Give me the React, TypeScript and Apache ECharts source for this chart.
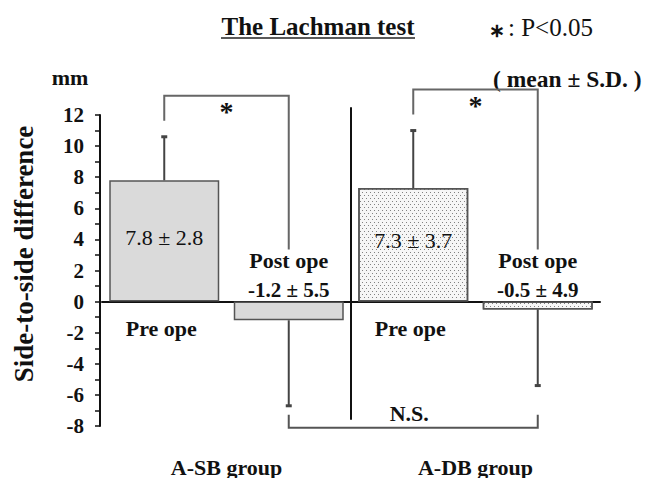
import React, { useEffect, useRef } from "react";
import * as echarts from "echarts";

const categories = ["Pre ope", "Post ope", "Pre ope", "Post ope"];
const groupNames = ["A-SB group", "A-DB group"];
const meanValues = [7.8, -1.2, 7.3, -0.5];
const sdValues = [2.8, 5.5, 3.7, 4.9];
const significantPairs = [[0, 1], [2, 3]];
const nsPair = [[1, 3]];
const yMin = -8;
const yMax = 12;
const yInterval = 2;

const FONT = '"Liberation Serif", "Times New Roman", serif';

export default function App() {
  const ref = useRef<HTMLDivElement>(null);

  useEffect(() => {
    if (!ref.current) return;
    const chart = echarts.init(ref.current, null, { renderer: "svg" });

    const solidStyle = { color: "#dadada", borderColor: "#555", borderWidth: 1.5 };
    const dotStyle = {
      color: "#f6f6f6",
      borderColor: "#555",
      borderWidth: 1.5,
      decal: {
        symbol: "rect",
        symbolSize: 1,
        color: "rgba(90,90,90,0.75)",
        dashArrayX: [[1, 3], [0, 2, 1, 1]],
        dashArrayY: [1, 1.5],
        rotation: 0,
      },
    };

    const errData = meanValues.map((m, i) => [i, m, sdValues[i]]);

    const txt = (x: number, y: number, text: string, font: string, align = "center") => ({
      type: "text",
      x,
      y,
      style: {
        text,
        font,
        fill: "#111",
        align,
        verticalAlign: "middle",
        textAlign: align,
        textVerticalAlign: "middle",
      },
    });

    const capY = (i: number) => {
      const m = meanValues[i];
      const s = sdValues[i];
      return m >= 0 ? m + s : m - s;
    };

    const option: any = {
      animation: false,
      backgroundColor: "#fff",
      grid: { left: 102, right: 49, top: 115, bottom: 50, containLabel: false },
      xAxis: [
        {
          type: "category",
          data: categories,
          axisLine: { onZero: true, lineStyle: { color: "#111", width: 2 } },
          axisTick: { show: false },
          axisLabel: { show: false },
          splitLine: { show: false },
        },
        {
          type: "category",
          data: groupNames,
          position: "bottom",
          gridIndex: 0,
          axisLine: { show: false, onZero: false },
          axisTick: { show: false },
          axisLabel: {
            show: true,
            margin: 30,
            fontFamily: FONT,
            fontWeight: "bold",
            fontSize: 22,
            color: "#111",
          },
          splitLine: { show: false },
        },
      ],
      yAxis: {
        type: "value",
        min: yMin,
        max: yMax,
        interval: yInterval,
        offset: 2,
        axisLine: { show: true, lineStyle: { color: "#111", width: 2 } },
        axisTick: { show: true, length: 5, lineStyle: { color: "#111", width: 1.5 } },
        minorTick: { show: true, splitNumber: 2, length: 5, lineStyle: { color: "#111", width: 1.5 } },
        splitLine: { show: false },
        minorSplitLine: { show: false },
        axisLabel: {
          margin: 16,
          fontFamily: FONT,
          fontWeight: "bold",
          fontSize: 21,
          color: "#111",
        },
      },
      graphic: [
        {
          type: "text",
          x: 318,
          y: 26,
          style: {
            text: "The Lachman test",
            font: `bold 25px ${FONT}`,
            fill: "#111",
            align: "center",
            verticalAlign: "middle",
            textAlign: "center",
            textVerticalAlign: "middle",
          },
        },
        {
          type: "line",
          shape: { x1: 221, y1: 38, x2: 415, y2: 38 },
          style: { stroke: "#222", lineWidth: 1.5 },
        },
        {
          type: "text",
          x: 497,
          y: 30,
          style: {
            text: "∗",
            font: `bold 19px ${FONT}`,
            fill: "#111",
            align: "center",
            verticalAlign: "middle",
            textAlign: "center",
            textVerticalAlign: "middle",
          },
        },
        {
          type: "text",
          x: 508,
          y: 27,
          style: {
            text: ": P<0.05",
            font: `25px ${FONT}`,
            fill: "#111",
            align: "left",
            verticalAlign: "middle",
            textAlign: "left",
            textVerticalAlign: "middle",
          },
        },
        {
          type: "text",
          x: 493,
          y: 79,
          style: {
            text: "( mean ± S.D. )",
            font: `bold 23.5px ${FONT}`,
            fill: "#111",
            align: "left",
            verticalAlign: "middle",
            textAlign: "left",
            textVerticalAlign: "middle",
          },
        },
        {
          type: "text",
          x: 70,
          y: 77,
          style: {
            text: "mm",
            font: `bold 22px ${FONT}`,
            fill: "#111",
            align: "center",
            verticalAlign: "middle",
            textAlign: "center",
            textVerticalAlign: "middle",
          },
        },
        {
          type: "text",
          x: 24,
          y: 254,
          rotation: Math.PI / 2,
          style: {
            text: "Side-to-side difference",
            font: `bold 27px ${FONT}`,
            fill: "#111",
            align: "center",
            verticalAlign: "middle",
            textAlign: "center",
            textVerticalAlign: "middle",
          },
        },
      ],
      series: [
        {
          type: "bar",
          xAxisIndex: 0,
          barWidth: 110,
          data: meanValues.map((v, i) => ({
            value: v,
            itemStyle: i < 2 ? solidStyle : dotStyle,
          })),
          z: 2,
        },
        {
          type: "custom",
          name: "errorbars",
          xAxisIndex: 0,
          clip: false,
          z: 3,
          data: errData,
          renderItem: (params: any, api: any) => {
            const x = api.value(0);
            const m = api.value(1);
            const s = api.value(2);
            const end = m >= 0 ? m + s : m - s;
            const p0 = api.coord([x, m]);
            const p1 = api.coord([x, end]);
            return {
              type: "group",
              children: [
                {
                  type: "line",
                  shape: { x1: p0[0], y1: p0[1], x2: p1[0], y2: p1[1] },
                  style: { stroke: "#444", lineWidth: 2 },
                },
                {
                  type: "line",
                  shape: { x1: p1[0] - 3, y1: p1[1], x2: p1[0] + 3, y2: p1[1] },
                  style: { stroke: "#444", lineWidth: 3 },
                },
              ],
            };
          },
        },
        {
          type: "custom",
          name: "significance",
          xAxisIndex: 0,
          clip: false,
          z: 3,
          data: significantPairs,
          renderItem: (params: any, api: any) => {
            const a = api.value(0);
            const b = api.value(1);
            const cap = api.coord([a, capY(a)]);
            const right = api.coord([b, 0]);
            const legBottom = cap[1] - 16;
            const top = legBottom - 25;
            const rightBottom = right[1] - 52;
            return {
              type: "group",
              children: [
                {
                  type: "polyline",
                  shape: {
                    points: [
                      [cap[0], legBottom],
                      [cap[0], top],
                      [right[0], top],
                      [right[0], rightBottom],
                    ],
                  },
                  style: { stroke: "#666", lineWidth: 2, fill: "none" },
                },
                txt((cap[0] + right[0]) / 2, top + 16, "*", `bold 28px ${FONT}`),
              ],
            };
          },
        },
        {
          type: "custom",
          name: "ns",
          xAxisIndex: 0,
          clip: false,
          z: 3,
          data: nsPair,
          renderItem: (params: any, api: any) => {
            const a = api.value(0);
            const b = api.value(1);
            const pa = api.coord([a, capY(a)]);
            const pb = api.coord([b, capY(b)]);
            const bottom = Math.max(pa[1], pb[1]) + 22;
            const legTop = bottom - 13;
            const c1 = api.coord([1, yMax]);
            const c2 = api.coord([2, yMax]);
            const sepX = (c1[0] + c2[0]) / 2;
            const sepTop = api.coord([1, 12.5])[1];
            return {
              type: "group",
              children: [
                {
                  type: "polyline",
                  shape: {
                    points: [
                      [pa[0], legTop],
                      [pa[0], bottom],
                      [pb[0], bottom],
                      [pb[0], legTop],
                    ],
                  },
                  style: { stroke: "#555", lineWidth: 2, fill: "none" },
                },
                {
                  type: "line",
                  shape: { x1: sepX, y1: sepTop, x2: sepX, y2: bottom - 8 },
                  style: { stroke: "#111", lineWidth: 2 },
                },
                txt((pa[0] + pb[0]) / 2 - 4, bottom - 14, "N.S.", `bold 22px ${FONT}`),
              ],
            };
          },
        },
        {
          type: "custom",
          name: "labels",
          xAxisIndex: 0,
          clip: false,
          z: 4,
          data: errData,
          renderItem: (params: any, api: any) => {
            const i = api.value(0);
            const m = api.value(1);
            const s = api.value(2);
            const zero = api.coord([i, 0]);
            const valueText = `${m.toFixed(1)} ± ${s.toFixed(1)}`;
            if (m >= 0) {
              const mid = api.coord([i, m / 2 + 0.25]);
              return {
                type: "group",
                children: [
                  txt(mid[0], mid[1], valueText, `22px ${FONT}`),
                  txt(zero[0] - 3, zero[1] + 27, categories[i], `bold 22px ${FONT}`),
                ],
              };
            }
            return {
              type: "group",
              children: [
                txt(zero[0], zero[1] - 41, categories[i], `bold 22px ${FONT}`),
                txt(zero[0], zero[1] - 12, valueText, `bold 21px ${FONT}`),
              ],
            };
          },
        },
      ],
    };

    chart.setOption(option);
    return () => chart.dispose();
  }, []);

  return (
    <div
      ref={ref}
      style={{ position: "fixed", left: 0, top: 0, width: 649, height: 478, background: "#fff" }}
    />
  );
}
